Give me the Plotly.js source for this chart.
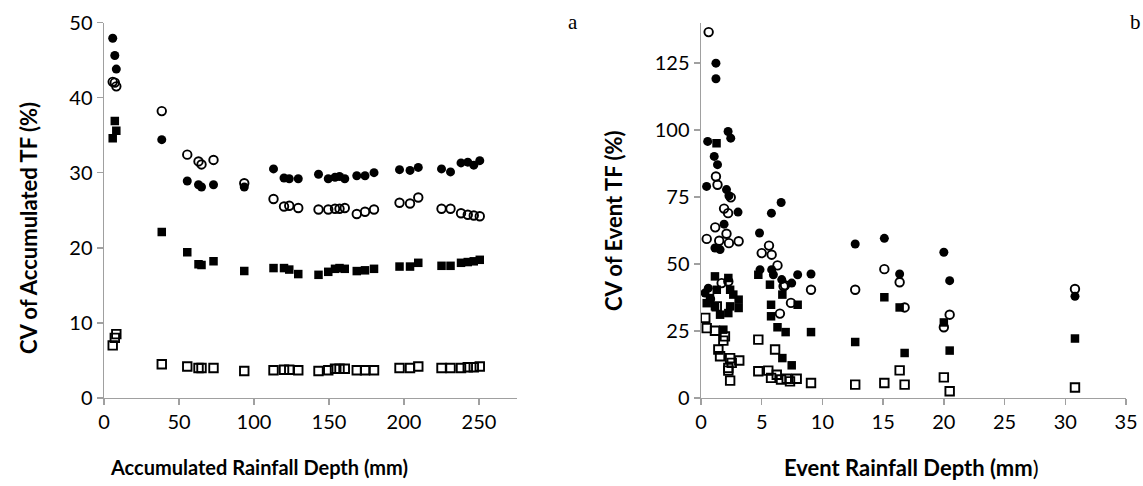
<!DOCTYPE html>
<html>
<head>
<meta charset="utf-8">
<script src="https://cdn.plot.ly/plotly-3.0.1.min.js"></script>
<style>html,body{margin:0;padding:0;background:#fff;}#chart{width:1143px;height:486px;}</style>
</head>
<body>
<div id="chart"></div>
<script>
// ---- Panel a: accumulated rainfall depth (mm) ----
var accDepth = [5.8, 7.2, 8.2, 38.5, 55.5, 63, 65, 73, 93.5, 113, 120, 123.5, 129.5, 143, 149.5, 154, 157, 160.5, 168.5, 174, 180, 197, 204, 209.5, 225, 231, 238, 242.5, 246.5, 250.5];
var accFilledCircle = [47.9, 45.6, 43.8, 34.4, 28.9, 28.4, 28.1, 28.4, 28.1, 30.5, 29.3, 29.2, 29.2, 29.8, 29.2, 29.4, 29.5, 29.2, 29.6, 29.6, 30.0, 30.4, 30.3, 30.7, 30.5, 30.1, 31.3, 31.4, 31.0, 31.6];
var accOpenCircle = [42.1, 42.0, 41.5, 38.2, 32.4, 31.5, 31.1, 31.7, 28.6, 26.5, 25.5, 25.6, 25.3, 25.1, 25.1, 25.2, 25.2, 25.3, 24.5, 24.8, 25.1, 26.0, 25.9, 26.7, 25.2, 25.2, 24.6, 24.4, 24.3, 24.2];
var accFilledSquare = [34.6, 36.9, 35.6, 22.1, 19.4, 17.8, 17.7, 18.2, 16.9, 17.3, 17.3, 17.1, 16.5, 16.4, 16.8, 17.2, 17.3, 17.2, 16.9, 17.0, 17.2, 17.5, 17.5, 18.0, 17.6, 17.6, 18.0, 18.1, 18.2, 18.4];
var accOpenSquare = [7.0, 8.0, 8.5, 4.5, 4.2, 4.0, 4.0, 4.0, 3.6, 3.7, 3.75, 3.75, 3.7, 3.6, 3.7, 3.9, 3.9, 3.9, 3.7, 3.7, 3.7, 4.0, 4.0, 4.2, 4.0, 4.0, 4.0, 4.1, 4.1, 4.2];

// ---- Panel b: event rainfall depth (mm) ----
var evFilledCircleX = [0.55, 0.46, 1.23, 1.23, 1.09, 1.36, 2.23, 2.45, 2.1, 2.3, 3.05, 1.9, 1.15, 1.57, 0.6, 0.33, 0.8, 4.82, 5.8, 6.6, 4.86, 5.82, 5.96, 6.65, 7.47, 7.96, 9.06, 12.7, 15.1, 16.36, 20.0, 20.48, 30.8];
var evFilledCircleY = [95.8, 79.0, 125.0, 119.2, 90.2, 87.1, 99.5, 97.0, 77.8, 75.5, 69.4, 64.9, 56.0, 55.4, 41.0, 39.2, 37.0, 61.6, 69.0, 73.0, 47.9, 47.9, 46.0, 44.2, 42.9, 46.0, 46.3, 57.5, 59.6, 46.3, 54.4, 43.8, 38.0];
var evOpenCircleX = [0.63, 1.23, 1.36, 2.45, 1.9, 2.23, 1.17, 2.1, 0.47, 1.5, 2.3, 3.1, 2.25, 1.7, 5.0, 5.82, 5.6, 6.3, 6.92, 6.8, 9.06, 7.41, 6.5, 12.7, 15.1, 16.36, 16.77, 20.48, 20.0, 30.8];
var evOpenCircleY = [136.6, 82.7, 79.6, 74.9, 70.7, 69.0, 63.7, 61.3, 59.4, 58.7, 57.8, 58.5, 43.5, 42.9, 54.1, 53.5, 56.9, 49.5, 42.1, 41.7, 40.4, 35.5, 31.5, 40.4, 48.1, 43.2, 33.8, 31.1, 26.4, 40.7];
var evFilledSquareX = [1.28, 1.15, 2.25, 1.3, 2.4, 2.66, 3.1, 0.47, 0.74, 1.15, 2.4, 3.1, 1.57, 2.25, 1.84, 4.72, 5.68, 6.7, 5.77, 5.77, 6.3, 6.97, 9.06, 7.96, 6.7, 7.47, 12.7, 15.1, 16.36, 16.77, 20.0, 20.48, 30.8];
var evFilledSquareY = [95.1, 45.4, 44.8, 40.4, 40.4, 38.6, 36.7, 35.4, 37.3, 34.2, 34.2, 33.6, 31.1, 31.7, 25.5, 46.0, 42.3, 38.6, 34.8, 30.5, 26.4, 24.6, 24.6, 34.8, 14.9, 12.2, 20.9, 37.6, 33.8, 16.8, 28.2, 17.7, 22.2];
var evOpenSquareX = [0.35, 0.47, 1.15, 1.3, 1.97, 1.84, 1.43, 1.57, 2.4, 3.15, 2.53, 2.25, 2.25, 2.4, 4.72, 4.72, 6.1, 5.54, 5.77, 6.24, 6.59, 7.06, 7.33, 7.88, 9.06, 12.7, 15.1, 16.36, 16.77, 20.0, 20.48, 30.8];
var evOpenSquareY = [29.9, 26.1, 25.1, 34.2, 23.0, 21.4, 18.1, 15.6, 14.9, 14.0, 13.1, 11.2, 10.2, 6.5, 21.8, 10.0, 18.1, 10.2, 7.5, 8.7, 6.9, 7.2, 6.2, 7.2, 5.6, 5.0, 5.6, 10.3, 5.0, 7.7, 2.5, 3.9];

var xTicksA = [0, 50, 100, 150, 200, 250];
var yTicksA = [0, 10, 20, 30, 40, 50];
var xTicksB = [0, 5, 10, 15, 20, 25, 30, 35];
var yTicksB = [0, 25, 50, 75, 100, 125];

var mFilledCircle = {symbol: 'circle', size: 9, color: '#000'};
var mOpenCircle = {symbol: 'circle-open', size: 8.5, color: '#000', line: {width: 1.9, color: '#000'}};
var mFilledSquare = {symbol: 'square', size: 8.5, color: '#000'};
var mOpenSquare = {symbol: 'square-open', size: 8.5, color: '#000', line: {width: 1.9, color: '#000'}};

function tr(x, y, m, xa, ya) {
  return {type: 'scatter', mode: 'markers', x: x, y: y, marker: m, xaxis: xa, yaxis: ya, hoverinfo: 'x+y', showlegend: false};
}

var data = [
  tr(accDepth, accOpenSquare, mOpenSquare, 'x', 'y'),
  tr(accDepth, accFilledSquare, mFilledSquare, 'x', 'y'),
  tr(accDepth, accOpenCircle, mOpenCircle, 'x', 'y'),
  tr(accDepth, accFilledCircle, mFilledCircle, 'x', 'y'),
  tr(evOpenSquareX, evOpenSquareY, mOpenSquare, 'x2', 'y2'),
  tr(evFilledSquareX, evFilledSquareY, mFilledSquare, 'x2', 'y2'),
  tr(evFilledCircleX, evFilledCircleY, mFilledCircle, 'x2', 'y2'),
  tr(evOpenCircleX, evOpenCircleY, mOpenCircle, 'x2', 'y2')
];

var FAM = 'Lato, "Open Sans", sans-serif';
var tickFont = {family: FAM, size: 20, color: '#000'};
var axBase = {
  showgrid: false, zeroline: false, showline: true, linecolor: '#a0a0a0', linewidth: 1.5,
  ticks: 'outside', ticklen: 6, tickcolor: '#a0a0a0', tickwidth: 1.5,
  tickfont: tickFont, fixedrange: true
};
function ax(extra) { var o = {}; for (var k in axBase) o[k] = axBase[k]; for (var k2 in extra) o[k2] = extra[k2]; return o; }

function label(text, px, py, size, angle, family) {
  return {text: text, xref: 'paper', yref: 'paper', x: px / 1143, y: 1 - py / 486,
    xanchor: 'center', yanchor: 'middle', showarrow: false, textangle: angle || 0,
    font: {family: family || FAM, size: size, color: '#000'}};
}

var layout = {
  width: 1143, height: 486,
  margin: {l: 0, r: 0, t: 0, b: 0},
  paper_bgcolor: '#fff', plot_bgcolor: 'rgba(0,0,0,0)',
  xaxis: ax({domain: [0.091, 0.4519], range: [0, 275], tickmode: 'array', tickvals: xTicksA, anchor: 'y'}),
  yaxis: ax({domain: [0.1811, 0.9537], range: [0, 50], tickmode: 'array', tickvals: yTicksA, anchor: 'x'}),
  xaxis2: ax({domain: [0.6133, 0.9851], range: [0, 35], tickmode: 'array', tickvals: xTicksB, anchor: 'y2'}),
  yaxis2: ax({domain: [0.1811, 0.9527], range: [0, 140], tickmode: 'array', tickvals: yTicksB, anchor: 'x2'}),
  annotations: [
    label('<b>Accumulated Rainfall Depth (mm)</b>', 259, 467, 20, 0),
    label('<b>CV of Accumulated TF (%)</b>', 28, 228, 22, -90),
    label('<b>Event Rainfall Depth (mm</b>)', 911, 467, 22, 0),
    label('<b>CV of Event TF (%)</b>', 613, 221, 22, -90),
    label('a', 573, 22, 21, 0, '"Liberation Serif", "Times New Roman", serif'),
    label('b', 1135, 22, 21, 0, '"Liberation Serif", "Times New Roman", serif')
  ]
};

Plotly.newPlot('chart', data, layout, {displayModeBar: false, staticPlot: true});
</script>
</body>
</html>
